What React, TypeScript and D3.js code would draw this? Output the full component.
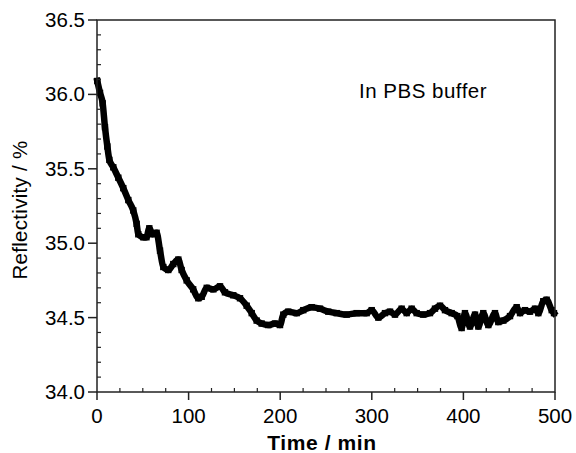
import React from "react";
import * as d3 from "d3";

const timeMin = [0.3, 3.3, 6.2, 8.7, 11.3, 13.5, 17.8, 23.3, 28.7, 34.2, 39.6, 43.3, 45.1, 50.5, 54, 57.1, 60.8, 65.1, 68.8, 72.4, 77.8, 83.3, 88.8, 92.4, 97.9, 105, 110.6, 114.3, 119.8, 127, 134.3, 139.7, 148.8, 156.1, 163.4, 168.9, 174.3, 179.8, 187, 194.3, 199.8, 203.4, 208.8, 218, 225.2, 234.4, 243.4, 252.5, 261.7, 272.6, 283.5, 294.4, 299.9, 307.1, 314.4, 319.9, 325.3, 332.6, 338.1, 343.5, 349, 356.2, 363.5, 369, 374.5, 379.9, 387.2, 393.4, 398.1, 401.7, 407.2, 412.7, 416.3, 421.7, 427.2, 434.5, 438.1, 443.6, 450.9, 458.2, 461.8, 467.2, 472.7, 478.2, 481.8, 487.2, 490.9, 496.4, 498.9];
const reflectivity = [36.09, 36.01, 35.94, 35.78, 35.65, 35.56, 35.51, 35.44, 35.37, 35.29, 35.22, 35.13, 35.06, 35.04, 35.04, 35.1, 35.06, 35.07, 34.95, 34.84, 34.82, 34.86, 34.89, 34.82, 34.75, 34.69, 34.63, 34.64, 34.7, 34.69, 34.71, 34.67, 34.65, 34.63, 34.58, 34.53, 34.48, 34.46, 34.45, 34.46, 34.45, 34.52, 34.54, 34.53, 34.55, 34.57, 34.56, 34.54, 34.53, 34.52, 34.53, 34.53, 34.55, 34.5, 34.53, 34.54, 34.52, 34.56, 34.53, 34.56, 34.53, 34.52, 34.53, 34.56, 34.58, 34.55, 34.53, 34.51, 34.43, 34.53, 34.44, 34.52, 34.44, 34.53, 34.45, 34.53, 34.47, 34.48, 34.51, 34.57, 34.53, 34.55, 34.54, 34.56, 34.53, 34.61, 34.62, 34.55, 34.53];

const xTicks = [0, 100, 200, 300, 400, 500];
const yTicks = [34.0, 34.5, 35.0, 35.5, 36.0, 36.5];
const xLabel = "Time / min";
const yLabel = "Reflectivity / %";
const annotation = "In PBS buffer";

const W = 576, H = 453;
const L = 97, R = 555, T = 20, B = 392;
const FONT = "'Liberation Sans', Arial, Helvetica, sans-serif";

export default function App() {
  const x = d3.scaleLinear().domain([0, 500]).range([L, R]);
  const y = d3.scaleLinear().domain([34.0, 36.5]).range([B, T]);
  const data = timeMin.map((t, i) => [t, reflectivity[i]] as [number, number]);
  const line = d3.line<[number, number]>().x(d => x(d[0])).y(d => y(d[1])).curve(d3.curveMonotoneX);
  const xMinor = d3.range(0, 501, 25).filter(v => v % 100 !== 0);
  const yMinor = d3.range(340, 366, 1).map(v => v / 10).filter(v => Math.round(v * 10) % 5 !== 0);
  const axisColor = "#222";
  return (
    <svg width={W} height={H} style={{ position: "absolute", left: 0, top: 0, background: "#fff" }} fontFamily={FONT}>
      <rect x={0} y={0} width={W} height={H} fill="#fff" />
      <path d={line(data) || ""} fill="none" stroke="#000" strokeWidth={6.5} strokeLinejoin="round" strokeLinecap="square" />
      {data.map((d, i) => (
        <rect key={i} x={x(d[0]) - 3.2} y={y(d[1]) - 3.2} width={6.4} height={6.4} fill="#000" />
      ))}
      <rect x={L} y={T} width={R - L} height={B - T} fill="none" stroke={axisColor} strokeWidth={1.5} />
      {xTicks.map(v => (
        <g key={"xt" + v}>
          <line x1={x(v)} x2={x(v)} y1={B} y2={B + 8} stroke={axisColor} strokeWidth={1.5} />
          <text x={x(v)} y={423} textAnchor="middle" fontSize={20.5} fill="#000">{v}</text>
        </g>
      ))}
      {xMinor.map(v => (
        <line key={"xm" + v} x1={x(v)} x2={x(v)} y1={B} y2={B - 4} stroke={axisColor} strokeWidth={1.2} />
      ))}
      {yTicks.map(v => (
        <g key={"yt" + v}>
          <line x1={L - 9} x2={L} y1={y(v)} y2={y(v)} stroke={axisColor} strokeWidth={1.5} />
          <text x={85} y={y(v) + 7} textAnchor="end" fontSize={20.5} fill="#000">{v.toFixed(1)}</text>
        </g>
      ))}
      {yMinor.map(v => (
        <line key={"ym" + v} x1={L} x2={L + 4} y1={y(v)} y2={y(v)} stroke={axisColor} strokeWidth={1.2} />
      ))}
      <text x={(L + R) / 2 - 4} y={450} textAnchor="middle" fontSize={21} fontWeight="bold" letterSpacing={0.6} fill="#000">{xLabel}</text>
      <text transform={`translate(27,${(T + B) / 2 + 4}) rotate(-90)`} textAnchor="middle" fontSize={20.5} letterSpacing={0.3} fill="#000">{yLabel}</text>
      <text x={359} y={98} fontSize={20.5} letterSpacing={0.5} fill="#000">{annotation}</text>
    </svg>
  );
}
